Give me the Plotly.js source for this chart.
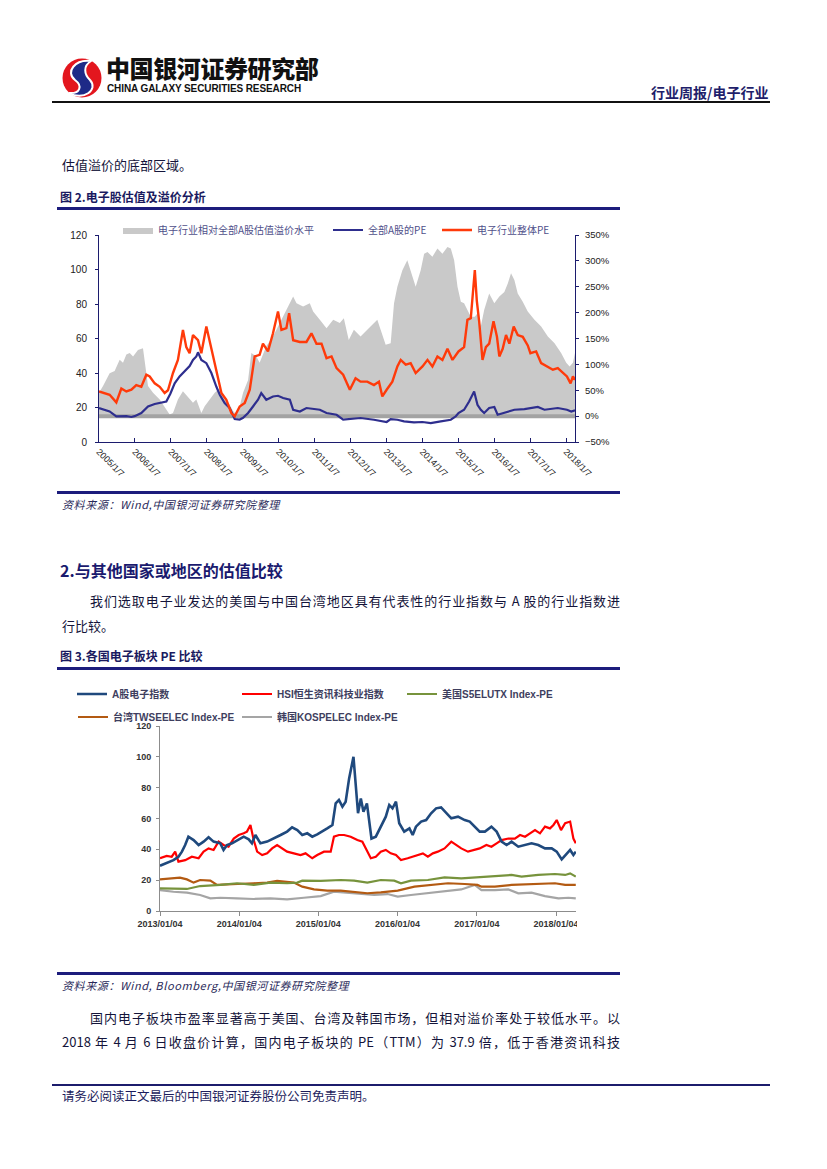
<!DOCTYPE html>
<html><head><meta charset="utf-8">
<script src="https://cdn.plot.ly/plotly-3.0.1.min.js"></script>
<style>
html,body{margin:0;padding:0;background:#fff;}
body{width:827px;height:1169px;position:relative;overflow:hidden;font-family:"Noto Sans CJK SC",sans-serif;}
.t{position:absolute;white-space:nowrap;line-height:1;}
.j{position:absolute;white-space:nowrap;line-height:1;text-align:justify;text-align-last:justify;}
.ln{position:absolute;}
.body{font-size:13px;color:#14143a;}
.cap{font-size:12px;font-weight:bold;color:#1a1a60;}
.src{font-size:11px;font-style:italic;color:#2a2a5a;letter-spacing:0.6px;}
</style></head>
<body>
<svg class="ln" style="left:60px;top:56px" width="44" height="44" viewBox="0 0 44 44">
 <circle cx="22" cy="22" r="19.5" fill="#e3161e"/>
 <path d="M31 5 C15 3 5 16 15 24 C23 30 20 38 9 37 C23 45 39 34 30 24 C24 18 23 10 31 5Z" fill="#1e2a87" stroke="#fff" stroke-width="2"/>
</svg>
<div class="t" style="left:106px;top:56px;font-size:24px;font-weight:900;color:#111;letter-spacing:-0.4px">中国银河证券研究部</div>
<div class="t" style="left:107px;top:84px;font-size:10px;font-weight:bold;color:#111;font-family:'Liberation Sans',Arial,sans-serif;letter-spacing:-0.1px">CHINA GALAXY SECURITIES RESEARCH</div>
<div class="t" style="left:651px;top:85px;font-size:14px;font-weight:bold;color:#1f1f6b">行业周报/电子行业</div>
<div class="ln" style="left:52px;top:101px;width:718px;height:2px;background:#111"></div>

<div class="t body" style="left:62px;top:158px">估值溢价的底部区域。</div>
<div class="t cap" style="left:60px;top:191px">图 2.电子股估值及溢价分析</div>
<div class="ln" style="left:57px;top:207px;width:563px;height:2.5px;background:#1c1c7c"></div>
<div id="c1" style="position:absolute;left:0;top:220px;width:640px;height:262px"></div>
<div class="ln" style="left:57px;top:491px;width:563px;height:2.5px;background:#1c1c7c"></div>
<div class="t src" style="left:62px;top:499px">资料来源：Wind,中国银河证券研究院整理</div>

<div class="t" style="left:60px;top:562px;font-size:16px;font-weight:bold;color:#1a1a6e">2.与其他国家或地区的估值比较</div>
<div class="j body" style="left:90px;top:594px;width:530px">我们选取电子业发达的美国与中国台湾地区具有代表性的行业指数与 A 股的行业指数进</div>
<div class="t body" style="left:62px;top:619px">行比较。</div>
<div class="t cap" style="left:60px;top:650px">图 3.各国电子板块 PE 比较</div>
<div class="ln" style="left:57px;top:667px;width:563px;height:2.5px;background:#1c1c7c"></div>
<div id="c2" style="position:absolute;left:60px;top:680px;width:517px;height:260px;overflow:hidden"></div>
<div class="ln" style="left:57px;top:972px;width:563px;height:2.5px;background:#1c1c7c"></div>
<div class="t src" style="left:62px;top:980px">资料来源：Wind, Bloomberg,中国银河证券研究院整理</div>
<div class="j body" style="left:90px;top:1011px;width:530px">国内电子板块市盈率显著高于美国、台湾及韩国市场，但相对溢价率处于较低水平。以</div>
<div class="j body" style="left:62px;top:1035px;width:558px">2018 年 4 月 6 日收盘价计算，国内电子板块的 PE（TTM）为 37.9 倍，低于香港资讯科技</div>
<div class="ln" style="left:52px;top:1084px;width:718px;height:2px;background:#1c1c6c"></div>
<div class="t" style="left:62px;top:1090px;font-size:12.5px;color:#1c1c5c">请务必阅读正文最后的中国银河证券股份公司免责声明。</div>

<script>
// ---------- Chart 1 data ----------
const c1TickDates = ['2005-01-07','2006-01-07','2007-01-07','2008-01-07','2009-01-07','2010-01-07','2011-01-07','2012-01-07','2013-01-07','2014-01-07','2015-01-07','2016-01-07','2017-01-07','2018-01-07'];
const c1TickText = ['2005/1/7','2006/1/7','2007/1/7','2008/1/7','2009/1/7','2010/1/7','2011/1/7','2012/1/7','2013/1/7','2014/1/7','2015/1/7','2016/1/7','2017/1/7','2018/1/7'];

const premDates = ['2005-01-07','2005-02-17','2005-04-25','2005-06-15','2005-08-05','2005-09-08','2005-10-12','2005-11-15','2005-12-19','2006-02-07','2006-03-30','2006-04-26','2006-05-20','2006-07-10','2006-09-16','2006-11-22','2006-12-26','2007-01-29','2007-03-20','2007-05-10','2007-06-30','2007-08-20','2007-09-23','2007-11-13','2007-12-17','2008-02-06','2008-03-28','2008-05-18','2008-07-07','2008-08-27','2008-09-30','2008-11-03','2008-12-07','2009-01-10','2009-03-02','2009-04-04','2009-05-25','2009-06-27','2009-09-03','2009-11-10','2010-01-18','2010-03-26','2010-06-03','2010-07-07','2010-09-12','2010-11-19','2010-12-23','2011-03-01','2011-05-08','2011-07-15','2011-09-20','2011-10-31','2011-12-20','2012-02-10','2012-04-18','2012-06-25','2012-09-01','2012-10-05','2012-11-08','2012-12-29','2013-02-18','2013-03-24','2013-04-27','2013-06-17','2013-08-06','2013-09-09','2013-10-30','2013-12-20','2014-01-24','2014-02-27','2014-04-18','2014-06-08','2014-07-29','2014-09-18','2014-10-22','2014-11-25','2014-12-29','2015-02-01','2015-03-06','2015-04-09','2015-05-13','2015-06-23','2015-07-20','2015-08-23','2015-09-26','2015-11-16','2016-01-07','2016-02-27','2016-04-18','2016-05-22','2016-06-25','2016-07-29','2016-09-01','2016-10-22','2016-12-12','2017-02-18','2017-04-27','2017-07-04','2017-09-10','2017-11-16','2018-01-07','2018-02-10','2018-03-16','2018-04-06'];
const premVals = [45,58,83,87,109,103,119,122,115,128,131,90,58,45,32,13,3,6,32,48,38,26,32,6,19,32,45,54,32,22,10,3,19,45,70,122,115,103,135,154,180,205,231,218,212,218,202,186,170,186,180,189,147,167,154,167,180,186,167,138,141,218,250,282,301,282,250,282,314,317,308,324,314,327,324,301,250,221,218,205,192,192,199,173,205,237,218,231,240,256,276,263,237,221,202,186,173,154,141,122,103,96,103,122];

const allADates = ['2005-01-07','2005-02-17','2005-04-25','2005-07-02','2005-10-12','2005-12-02','2006-01-04','2006-03-13','2006-05-20','2006-07-27','2006-09-16','2006-11-22','2007-01-02','2007-02-15','2007-04-06','2007-05-27','2007-07-17','2007-08-20','2007-09-23','2007-10-10','2007-11-13','2008-01-03','2008-02-23','2008-04-14','2008-05-18','2008-07-07','2008-08-27','2008-10-17','2008-12-07','2009-01-10','2009-03-02','2009-04-21','2009-06-11','2009-07-14','2009-09-03','2009-11-10','2009-12-31','2010-02-21','2010-04-30','2010-06-03','2010-08-10','2010-10-16','2010-12-30','2011-03-01','2011-05-08','2011-08-18','2011-10-24','2011-12-31','2012-04-18','2012-09-01','2013-01-08','2013-02-18','2013-04-27','2013-07-04','2013-10-13','2014-01-07','2014-04-01','2014-07-12','2014-10-22','2014-12-12','2015-01-08','2015-03-06','2015-04-26','2015-06-16','2015-07-20','2015-08-23','2015-09-26','2015-11-16','2016-01-07','2016-02-10','2016-04-01','2016-05-22','2016-07-29','2016-11-08','2017-01-08','2017-03-24','2017-05-31','2017-08-07','2017-10-13','2018-01-14','2018-02-27','2018-04-06'];
const allAVals = [19.7,19.1,17.7,14.9,15.0,14.5,15.0,16.8,20.6,22.0,22.6,23.5,28.0,34.0,38.0,41.0,44.0,47.6,49.6,52.0,47.6,45.7,40.0,32.0,27.4,22.6,19.7,13.3,13.0,14.0,16.8,20.6,24.5,28.4,24.5,26.4,26.8,25.5,24.5,18.7,17.7,19.7,19.1,18.7,16.8,15.8,13.0,13.3,13.9,12.9,11.6,13.3,12.9,12.0,11.4,11.6,11.0,12.0,12.9,14.9,16.8,18.7,23.5,29.3,21.6,18.7,16.8,19.7,20.3,15.8,16.8,17.7,18.7,19.1,19.7,20.3,18.7,19.3,19.7,18.7,17.7,18.3];

const elecDates = ['2005-01-07','2005-03-05','2005-04-25','2005-07-02','2005-08-22','2005-10-12','2005-12-02','2006-01-21','2006-03-13','2006-05-03','2006-06-06','2006-07-27','2006-09-16','2006-11-05','2006-12-09','2007-01-29','2007-03-20','2007-05-10','2007-06-13','2007-07-17','2007-08-20','2007-10-10','2007-11-13','2008-01-03','2008-02-23','2008-04-14','2008-06-04','2008-07-24','2008-09-13','2008-10-17','2008-12-07','2009-01-27','2009-03-19','2009-05-08','2009-06-27','2009-07-31','2009-09-20','2009-11-10','2009-12-31','2010-02-04','2010-03-26','2010-04-23','2010-06-03','2010-08-10','2010-10-16','2010-12-06','2011-01-26','2011-03-18','2011-05-08','2011-06-28','2011-08-18','2011-10-24','2011-12-31','2012-02-27','2012-04-18','2012-06-25','2012-09-01','2012-10-22','2012-11-25','2013-01-08','2013-03-07','2013-04-27','2013-05-31','2013-07-21','2013-09-09','2013-10-30','2014-01-07','2014-02-27','2014-04-18','2014-06-08','2014-07-29','2014-09-18','2014-11-08','2015-01-08','2015-03-06','2015-04-09','2015-05-13','2015-06-23','2015-07-13','2015-08-06','2015-09-09','2015-10-13','2015-11-16','2015-12-30','2016-02-03','2016-02-27','2016-04-01','2016-05-05','2016-06-08','2016-07-22','2016-09-01','2016-10-22','2016-12-12','2017-01-08','2017-03-07','2017-04-27','2017-07-04','2017-08-24','2017-10-13','2017-12-03','2018-01-14','2018-02-20','2018-03-16','2018-04-06'];
const elecVals = [29.3,28.4,27.4,23.0,31.0,29.3,30.3,33.0,32.0,39.0,38.0,34.0,32.0,28.4,30.0,40.0,47.6,65.0,55.0,51.5,62.0,59.0,51.5,67.0,54.0,40.0,28.4,24.5,16.8,14.9,20.6,22.6,30.3,49.6,50.5,57.0,52.5,63.0,75.6,65.0,66.0,74.7,59.0,58.0,58.0,63.0,57.0,57.0,48.6,49.6,42.8,39.0,30.3,37.0,35.0,35.0,33.0,35.0,26.4,30.3,35.0,43.8,47.6,44.8,45.7,40.0,43.8,47.6,43.8,49.6,47.6,54.0,47.6,52.5,55.0,70.8,71.8,99.7,82.0,70.0,47.6,55.0,57.0,70.0,61.0,49.6,54.0,62.0,57.0,67.0,62.0,61.0,56.0,51.5,52.5,45.7,43.8,41.9,42.8,40.0,38.0,34.0,38.0,36.0];

// ---------- Chart 2 data (dates as decimal years) ----------
const c2TickDates = ['2013-01-04','2014-01-04','2015-01-04','2016-01-04','2017-01-04','2018-01-04'];
const c2TickText = ['2013/01/04','2014/01/04','2015/01/04','2016/01/04','2017/01/04','2018/01/04'];

const aeT = [2013.01,2013.095,2013.179,2013.242,2013.285,2013.327,2013.369,2013.433,2013.496,2013.559,2013.623,2013.686,2013.771,2013.813,2013.855,2013.919,2013.995,2014.067,2014.13,2014.172,2014.215,2014.278,2014.362,2014.447,2014.532,2014.616,2014.679,2014.743,2014.806,2014.87,2014.933,2014.996,2015.06,2015.123,2015.187,2015.229,2015.271,2015.313,2015.356,2015.398,2015.453,2015.483,2015.512,2015.546,2015.58,2015.622,2015.652,2015.681,2015.736,2015.80,2015.863,2015.905,2015.947,2015.99,2016.032,2016.095,2016.159,2016.201,2016.243,2016.307,2016.37,2016.434,2016.497,2016.56,2016.624,2016.687,2016.772,2016.856,2016.92,2016.983,2017.046,2017.11,2017.194,2017.258,2017.321,2017.384,2017.448,2017.532,2017.617,2017.701,2017.786,2017.871,2017.955,2018.018,2018.082,2018.145,2018.188,2018.23,2018.26];
const aeV = [29.4,31,33,35.2,38.5,42.8,48.2,46,42.8,45,47.8,45,43.9,39.6,42.8,43.9,46,48.2,46.5,43.9,49.3,43.9,45,47,49.3,51.5,54.3,52.5,49.3,50.4,48.2,49.7,51.5,53.6,55.8,69.8,72,67.7,70.9,86,100,80.6,63.4,73,64.4,69.8,56.9,47,48.2,54.7,61.2,68.8,66.6,70.9,56.9,51.5,53.6,49.3,54.7,58,59,63.4,66.6,67.2,63.4,60.1,61.2,59,58,54.7,51.5,51.5,54.7,51.5,45,42.8,45,41.7,42.8,43.9,42.8,40.6,40.6,38.5,33.5,37.4,39.6,36.3,38.5];

const hsiT = [2013.01,2013.095,2013.158,2013.20,2013.242,2013.327,2013.412,2013.496,2013.559,2013.623,2013.686,2013.75,2013.813,2013.876,2013.94,2014.003,2014.067,2014.109,2014.151,2014.193,2014.236,2014.299,2014.362,2014.426,2014.489,2014.553,2014.616,2014.701,2014.785,2014.849,2014.933,2014.996,2015.081,2015.166,2015.208,2015.271,2015.335,2015.419,2015.504,2015.567,2015.63,2015.673,2015.736,2015.80,2015.863,2015.926,2015.99,2016.053,2016.138,2016.201,2016.264,2016.328,2016.391,2016.455,2016.518,2016.603,2016.687,2016.75,2016.814,2016.898,2016.983,2017.046,2017.131,2017.194,2017.258,2017.321,2017.406,2017.49,2017.554,2017.617,2017.68,2017.744,2017.807,2017.871,2017.934,2017.976,2018.018,2018.073,2018.124,2018.188,2018.23,2018.26];
const hsiV = [34.2,35.7,35.2,38.5,32,33,35.2,34.2,38.5,40.6,39.6,45,42.8,41.7,47,49.3,50.4,51.5,55.8,46,38.5,36.3,37.4,40.6,42.8,40.6,38.5,37.4,36.3,37.4,34.2,36.3,38.5,38.5,48.2,49.3,49.3,48.2,46,45,38.5,34.2,35.2,38.5,39.6,37.4,36.3,33,34.2,35.2,36.3,37.4,35.2,37.4,38.5,40.6,45,42.8,40.6,38.5,39.6,40.6,42.8,41.7,43.9,46,47,47,49.3,48.2,50.4,52.5,50.4,54.7,53.6,55.8,59,52.5,56.9,58,47,43.9];

const usT = [2013.01,2013.348,2013.517,2013.771,2013.982,2014.193,2014.405,2014.616,2014.743,2014.806,2015.039,2015.292,2015.461,2015.63,2015.80,2015.969,2016.053,2016.18,2016.391,2016.603,2016.814,2017.025,2017.237,2017.448,2017.575,2017.786,2017.997,2018.124,2018.188,2018.26];
const usV = [14.7,14.3,16.2,16.9,18,16.9,18.4,18,18.4,19.7,19.5,20.1,19.7,18.4,20.1,19.7,18,19.7,20.1,21.8,21.2,21.8,22.7,23.4,22.3,23.4,24,23.4,24.4,22.3];

const twT = [2013.01,2013.137,2013.263,2013.348,2013.433,2013.517,2013.644,2013.729,2013.855,2014.024,2014.193,2014.362,2014.489,2014.701,2014.806,2014.954,2015.123,2015.292,2015.461,2015.63,2015.80,2016.011,2016.222,2016.434,2016.645,2016.856,2017.017,2017.067,2017.237,2017.448,2017.659,2017.871,2017.997,2018.124,2018.26];
const twV = [20.5,21.2,21.6,20.5,18.4,20.1,19.7,16.9,17.3,17.5,18,18.4,19.5,18.4,15.8,14,13.2,13.2,12.5,11.5,12.1,13.2,15.8,16.9,18,17.5,16.9,15.8,15.8,16.9,17.3,17.5,18,16.9,16.9];

const krT = [2013.01,2013.179,2013.348,2013.517,2013.644,2013.771,2013.982,2014.193,2014.405,2014.616,2014.827,2015.039,2015.208,2015.377,2015.546,2015.715,2015.884,2016.011,2016.18,2016.391,2016.603,2016.814,2016.983,2017.067,2017.237,2017.406,2017.532,2017.701,2017.871,2018.04,2018.166,2018.26];
const krV = [13.6,12.5,11.9,10.4,8.2,8.6,8.2,7.8,8.2,7.6,8.6,9.7,12.5,11.9,11,10.4,11,9.3,10.4,11.5,13,14,16.9,13.6,13.6,14,11.5,11.9,9.7,8.2,8.6,8.2];

const c2Names = ['A股电子指数','HSI恒生资讯科技业指数','美国S5ELUTX Index-PE','台湾TWSEELEC Index-PE','韩国KOSPELEC Index-PE'];
const c1Names = ['电子行业相对全部A股估值溢价水平','全部A股的PE','电子行业整体PE'];

function dy(d){
  const y = Math.floor(d);
  const s = Date.UTC(y,0,1), e = Date.UTC(y+1,0,1);
  return new Date(s + (d - y) * (e - s)).toISOString().slice(0,10);
}

// ---------- Chart 1 ----------
const NAVY = '#1c1c6e';
const W1 = 640, H1 = 262;
const c1Traces = [
  {x: premDates, y: premVals, yaxis: 'y', type: 'scatter', mode: 'lines', fill: 'tozeroy',
   fillcolor: '#c9c9c9', line: {width: 0, color: '#c9c9c9'}, name: c1Names[0], legend: 'legend'},
  {x: [premDates[0], premDates[premDates.length-1]], y: [0, 0], yaxis: 'y', type: 'scatter', mode: 'lines',
   line: {width: 4, color: '#a3a3a3'}, showlegend: false, hoverinfo: 'skip'},
  {x: allADates, y: allAVals, yaxis: 'y2', type: 'scatter', mode: 'lines',
   line: {width: 2.2, color: '#2e2e8e'}, name: c1Names[1], legend: 'legend2'},
  {x: elecDates, y: elecVals, yaxis: 'y2', type: 'scatter', mode: 'lines',
   line: {width: 2.4, color: '#ff3a0a'}, name: c1Names[2], legend: 'legend3'}
];
const lg1 = (px) => ({x: (px - 40) / W1, xref: 'container', y: 1 - 10 / H1, yref: 'container',
  xanchor: 'left', yanchor: 'middle', orientation: 'h', bgcolor: 'rgba(0,0,0,0)',
  font: {family: 'Noto Sans CJK SC', size: 10, color: '#50508a'}, itemwidth: 30});
const c1Layout = {
  width: W1, height: H1, margin: {l: 99, r: 65, t: 15, b: 40, autoexpand: false},
  paper_bgcolor: 'rgba(0,0,0,0)', plot_bgcolor: '#fff',
  font: {family: 'Liberation Sans, Arial, sans-serif', size: 10, color: '#222'},
  xaxis: {type: 'date', range: ['2005-01-07', '2018-04-06'], tickvals: c1TickDates, ticktext: c1TickText,
    tickangle: 45, ticks: 'inside', ticklen: 4, tickcolor: NAVY, showline: true, linecolor: NAVY, linewidth: 1,
    showgrid: false, zeroline: false, tickfont: {size: 9, color: '#222'}, automargin: false, ticklabeloverflow: 'allow'},
  yaxis: {range: [-50, 350], dtick: 50, ticksuffix: '%', side: 'right', showline: true, linecolor: NAVY,
    ticks: 'outside', ticklen: 3, tickcolor: NAVY, showgrid: false, zeroline: false,
    tickfont: {size: 9.5, color: '#222'}, automargin: false, ticklabelstandoff: 4},
  yaxis2: {range: [0, 120], dtick: 20, side: 'left', overlaying: 'y', showline: true, linecolor: NAVY,
    ticks: 'outside', ticklen: 3, tickcolor: NAVY, showgrid: false, zeroline: false,
    tickfont: {size: 10, color: '#222'}, automargin: false, ticklabelstandoff: 6},
  legend: lg1(158), legend2: lg1(368), legend3: lg1(477),
  showlegend: true
};
Plotly.newPlot('c1', c1Traces, c1Layout, {staticPlot: true, displayModeBar: false});

// ---------- Chart 2 ----------
const W2 = 517, H2 = 260, L2 = 60;
const c2Colors = ['#1f497d', '#ff0000', '#77933c', '#b35a12', '#a5a5a5'];
const c2Series = [[aeT, aeV], [hsiT, hsiV], [usT, usV], [twT, twV], [krT, krV]];
const c2Legends = ['legend', 'legend2', 'legend3', 'legend4', 'legend5'];
const c2Traces = c2Series.map((s, i) => ({
  x: s[0].map(dy), y: s[1], type: 'scatter', mode: 'lines', name: c2Names[i],
  line: {width: i === 0 ? 2.6 : 2.2, color: c2Colors[i]}, legend: c2Legends[i]
}));
// put A股 line on top
const c2Order = [4, 3, 2, 1, 0].map(i => c2Traces[i]);
const lg2 = (px, py) => ({x: (px - 40 - L2) / W2, xref: 'container', y: 1 - (py - 680) / H2, yref: 'container',
  xanchor: 'left', yanchor: 'middle', orientation: 'h', bgcolor: 'rgba(0,0,0,0)',
  font: {family: 'Liberation Sans, Noto Sans CJK SC', size: 10, color: '#3e3e5e', weight: 'bold'}, itemwidth: 30});
const c2Layout = {
  width: W2, height: H2, margin: {l: 100, r: 1, t: 46, b: 29, autoexpand: false},
  paper_bgcolor: 'rgba(0,0,0,0)', plot_bgcolor: '#fff',
  font: {family: 'Liberation Sans, Arial, sans-serif', size: 9, color: '#333'},
  xaxis: {type: 'date', range: ['2013-01-04', '2018-04-06'], tickvals: c2TickDates, ticktext: c2TickText,
    tickangle: 0, ticks: 'outside', ticklen: 4, tickcolor: '#8c8c8c', showline: true, linecolor: '#8c8c8c',
    showgrid: false, zeroline: false, tickfont: {size: 9, color: '#333', weight: 'bold'}, automargin: false,
    ticklabeloverflow: 'allow'},
  yaxis: {range: [0, 120], dtick: 20, showline: true, linecolor: '#8c8c8c', ticks: 'outside', ticklen: 3,
    tickcolor: '#8c8c8c', showgrid: false, zeroline: false, tickfont: {size: 9, color: '#333', weight: 'bold'},
    automargin: false, ticklabelstandoff: 3},
  legend: lg2(112, 694), legend2: lg2(277, 694), legend3: lg2(442, 694),
  legend4: lg2(113, 717), legend5: lg2(277, 717),
  showlegend: true
};
Plotly.newPlot('c2', c2Order, c2Layout, {staticPlot: true, displayModeBar: false});
</script>
</body></html>
